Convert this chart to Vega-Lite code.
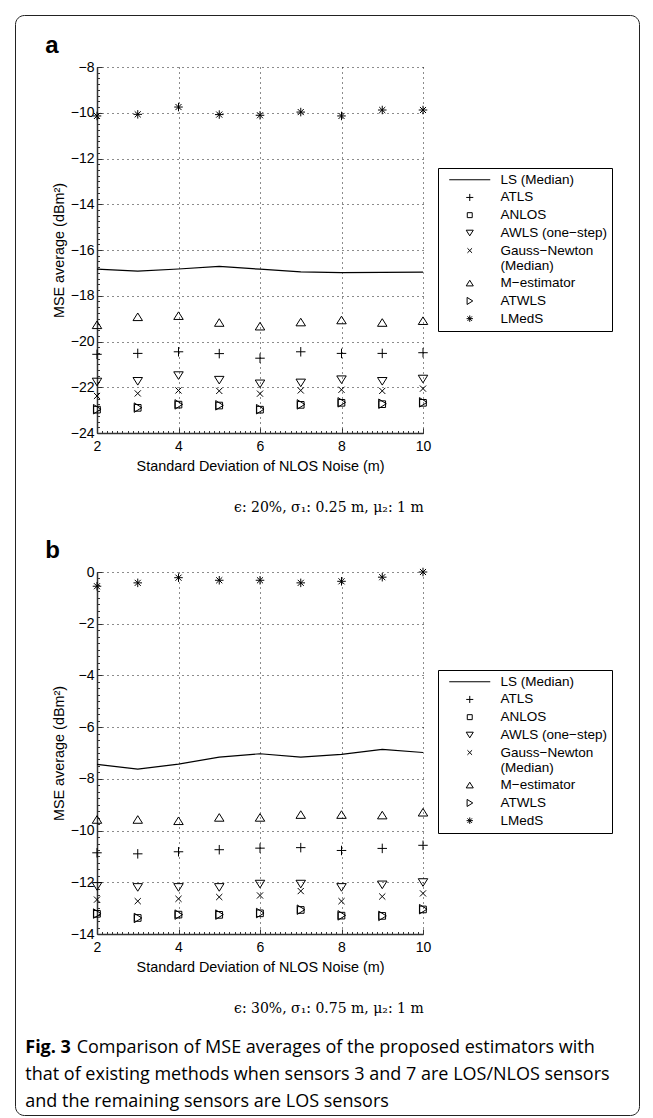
{
  "$schema": "https://vega.github.io/schema/vega-lite/v6.json",
  "background": "white",
  "padding": {"left": 14, "top": 14, "right": 5, "bottom": 0},
  "config": {
    "view": {"stroke": null},
    "font": "Liberation Sans",
    "axis": {
      "labelFont": "Liberation Sans", "labelFontSize": 14, "labelColor": "black",
      "titleFont": "Liberation Sans", "titleFontSize": 14.4, "titleFontWeight": "normal", "titleColor": "black",
      "domainColor": "#333", "domainWidth": 1.5, "tickColor": "#333", "tickWidth": 1,
      "gridColor": "#000", "gridDash": [1, 4], "gridWidth": 1,
      "labelOverlap": false, "labelFlush": false, "format": "d"
    },
    "legend": {
      "orient": "none", "strokeColor": "black", "padding": 5,
      "labelFont": "Liberation Sans", "labelFontSize": 13.5, "labelColor": "black", "labelLimit": 0,
      "symbolSize": 50, "symbolStrokeWidth": 1, "symbolStrokeColor": "black", "symbolOffset": 20, "labelOffset": 24, "rowPadding": 2.7
    }
  },
  "bounds": "flush",
  "spacing": 18,
  "vconcat": [
    {
      "width": 1, "height": 1,
      "data": {"values": [{"v": 0}, {"v": 1}]},
      "mark": {"type": "point", "opacity": 0},
      "encoding": {
        "color": {"field": "v", "type": "quantitative",
          "legend": {"title": null, "orient": "none", "legendX": -82, "legendY": -33, "direction": "vertical",
            "gradientLength": 1100, "gradientThickness": 624, "gradientOpacity": 0, "gradientStrokeWidth": 0,
            "labelExpr": "''", "labelOffset": 0, "padding": 0, "strokeColor": "#222", "cornerRadius": 9, "fillColor": "transparent"}}
      }
    },
    {
      "spacing": 24,
      "resolve": {"scale": {"shape": "independent"}},
      "title": {
        "text": "Fig. 3",
        "subtitle": ["\u200b\u00a0\u00a0\u00a0\u00a0\u00a0\u00a0\u00a0\u00a0\u00a0\u00a0\u00a0Comparison of MSE averages of the proposed estimators with", "that of existing methods when sensors 3 and 7 are LOS/NLOS sensors", "and the remaining sensors are LOS sensors"],
        "orient": "bottom", "anchor": "start", "frame": "bounds", "offset": 23,
        "font": "Open Sans", "fontSize": 18, "fontWeight": "bold", "color": "black",
        "subtitleFont": "Open Sans", "subtitleFontSize": 18, "subtitleFontWeight": "normal", "subtitleColor": "black",
        "subtitlePadding": -18, "subtitleLineHeight": 27, "dx": -20
      },
      "vconcat": [
        {
          "title": {"text": "ϵ: 20%, σ₁: 0.25 m, μ₂: 1 m", "orient": "bottom", "anchor": "middle", "frame": "bounds", "font": "DejaVu Serif", "fontSize": 14, "fontWeight": "normal", "color": "black", "offset": 28, "dx": 0},
          "vconcat": [
            {
              "width": 326, "height": 366,
              "title": {"text": "a", "anchor": "start", "frame": "bounds", "fontSize": 24, "fontWeight": "bold", "font": "Liberation Sans", "color": "black", "dx": -6, "offset": 2},
              "data": {"values": [
                {"s": "LS (Median)", "x": 2, "y": -16.84}, {"s": "LS (Median)", "x": 3, "y": -16.92}, {"s": "LS (Median)", "x": 4, "y": -16.83}, {"s": "LS (Median)", "x": 5, "y": -16.72}, {"s": "LS (Median)", "x": 6, "y": -16.84}, {"s": "LS (Median)", "x": 7, "y": -16.96}, {"s": "LS (Median)", "x": 8, "y": -16.99}, {"s": "LS (Median)", "x": 9, "y": -16.98}, {"s": "LS (Median)", "x": 10, "y": -16.97},
                {"s": "ATLS", "x": 2, "y": -20.56}, {"s": "ATLS", "x": 3, "y": -20.52}, {"s": "ATLS", "x": 4, "y": -20.45}, {"s": "ATLS", "x": 5, "y": -20.53}, {"s": "ATLS", "x": 6, "y": -20.73}, {"s": "ATLS", "x": 7, "y": -20.45}, {"s": "ATLS", "x": 8, "y": -20.52}, {"s": "ATLS", "x": 9, "y": -20.52}, {"s": "ATLS", "x": 10, "y": -20.49},
                {"s": "ANLOS", "x": 2, "y": -22.98}, {"s": "ANLOS", "x": 3, "y": -22.9}, {"s": "ANLOS", "x": 4, "y": -22.76}, {"s": "ANLOS", "x": 5, "y": -22.8}, {"s": "ANLOS", "x": 6, "y": -22.98}, {"s": "ANLOS", "x": 7, "y": -22.77}, {"s": "ANLOS", "x": 8, "y": -22.68}, {"s": "ANLOS", "x": 9, "y": -22.74}, {"s": "ANLOS", "x": 10, "y": -22.68},
                {"s": "AWLS (one−step)", "x": 2, "y": -21.76}, {"s": "AWLS (one−step)", "x": 3, "y": -21.73}, {"s": "AWLS (one−step)", "x": 4, "y": -21.48}, {"s": "AWLS (one−step)", "x": 5, "y": -21.68}, {"s": "AWLS (one−step)", "x": 6, "y": -21.84}, {"s": "AWLS (one−step)", "x": 7, "y": -21.8}, {"s": "AWLS (one−step)", "x": 8, "y": -21.66}, {"s": "AWLS (one−step)", "x": 9, "y": -21.73}, {"s": "AWLS (one−step)", "x": 10, "y": -21.63},
                {"s": "Gauss−Newton (Median)", "x": 2, "y": -22.38}, {"s": "Gauss−Newton (Median)", "x": 3, "y": -22.27}, {"s": "Gauss−Newton (Median)", "x": 4, "y": -22.14}, {"s": "Gauss−Newton (Median)", "x": 5, "y": -22.16}, {"s": "Gauss−Newton (Median)", "x": 6, "y": -22.28}, {"s": "Gauss−Newton (Median)", "x": 7, "y": -22.14}, {"s": "Gauss−Newton (Median)", "x": 8, "y": -22.11}, {"s": "Gauss−Newton (Median)", "x": 9, "y": -22.16}, {"s": "Gauss−Newton (Median)", "x": 10, "y": -22.06},
                {"s": "M−estimator", "x": 2, "y": -19.28}, {"s": "M−estimator", "x": 3, "y": -18.93}, {"s": "M−estimator", "x": 4, "y": -18.88}, {"s": "M−estimator", "x": 5, "y": -19.18}, {"s": "M−estimator", "x": 6, "y": -19.34}, {"s": "M−estimator", "x": 7, "y": -19.16}, {"s": "M−estimator", "x": 8, "y": -19.07}, {"s": "M−estimator", "x": 9, "y": -19.18}, {"s": "M−estimator", "x": 10, "y": -19.1},
                {"s": "ATWLS", "x": 2, "y": -22.96}, {"s": "ATWLS", "x": 3, "y": -22.89}, {"s": "ATWLS", "x": 4, "y": -22.75}, {"s": "ATWLS", "x": 5, "y": -22.79}, {"s": "ATWLS", "x": 6, "y": -22.96}, {"s": "ATWLS", "x": 7, "y": -22.75}, {"s": "ATWLS", "x": 8, "y": -22.66}, {"s": "ATWLS", "x": 9, "y": -22.72}, {"s": "ATWLS", "x": 10, "y": -22.66},
                {"s": "LMedS", "x": 2, "y": -10.14}, {"s": "LMedS", "x": 3, "y": -10.07}, {"s": "LMedS", "x": 4, "y": -9.75}, {"s": "LMedS", "x": 5, "y": -10.08}, {"s": "LMedS", "x": 6, "y": -10.11}, {"s": "LMedS", "x": 7, "y": -9.97}, {"s": "LMedS", "x": 8, "y": -10.14}, {"s": "LMedS", "x": 9, "y": -9.88}, {"s": "LMedS", "x": 10, "y": -9.88}
              ]},
              "encoding": {
                "x": {"field": "x", "type": "quantitative", "scale": {"domain": [2, 10], "nice": false},
                  "axis": {"title": "Standard Deviation of NLOS Noise (m)",
                    "values": [2,2.125,2.25,2.375,2.5,2.625,2.75,2.875,3,3.125,3.25,3.375,3.5,3.625,3.75,3.875,4,4.125,4.25,4.375,4.5,4.625,4.75,4.875,5,5.125,5.25,5.375,5.5,5.625,5.75,5.875,6,6.125,6.25,6.375,6.5,6.625,6.75,6.875,7,7.125,7.25,7.375,7.5,7.625,7.75,7.875,8,8.125,8.25,8.375,8.5,8.625,8.75,8.875,9,9.125,9.25,9.375,9.5,9.625,9.75,9.875,10],
                    "labelExpr": "datum.value % 2 == 0 ? datum.label : ''",
                    "tickSize": {"condition": {"test": "datum.value % 2 == 0", "value": -5}, "value": -2.5},
                    "gridOpacity": {"condition": {"test": "datum.value % 2 == 0", "value": 0.9}, "value": 0},
                    "labelPadding": 11, "titlePadding": 4}},
                "y": {"field": "y", "type": "quantitative", "scale": {"domain": [-24, -8], "nice": false},
                  "axis": {"title": "MSE average (dBm²)",
                    "values": [-24,-23.75,-23.5,-23.25,-23,-22.75,-22.5,-22.25,-22,-21.75,-21.5,-21.25,-21,-20.75,-20.5,-20.25,-20,-19.75,-19.5,-19.25,-19,-18.75,-18.5,-18.25,-18,-17.75,-17.5,-17.25,-17,-16.75,-16.5,-16.25,-16,-15.75,-15.5,-15.25,-15,-14.75,-14.5,-14.25,-14,-13.75,-13.5,-13.25,-13,-12.75,-12.5,-12.25,-12,-11.75,-11.5,-11.25,-11,-10.75,-10.5,-10.25,-10,-9.75,-9.5,-9.25,-9,-8.75,-8.5,-8.25,-8],
                    "labelExpr": "datum.value % 2 == 0 ? datum.label : ''",
                    "tickSize": {"condition": {"test": "datum.value % 2 == 0", "value": -5}, "value": -2.5},
                    "gridOpacity": {"condition": {"test": "datum.value % 2 == 0", "value": 0.9}, "value": 0},
                    "labelPadding": 8, "titlePadding": 4}}
              },
              "layer": [
                {"transform": [{"filter": "datum.s == 'LS (Median)'"}], "mark": {"type": "line", "color": "black", "strokeWidth": 1.2}, "encoding": {}},
                {"transform": [{"filter": "datum.s != 'LS (Median)'"}],
                 "mark": {"type": "point", "filled": false, "color": "black", "strokeWidth": 1, "size": 90, "opacity": 1},
                 "encoding": {"shape": {"field": "s", "type": "nominal",
                   "scale": {"domain": ["LS (Median)", "ATLS", "ANLOS", "AWLS (one−step)", "Gauss−Newton (Median)", "M−estimator", "ATWLS", "LMedS"],
                     "range": ["M-5.8,0H5.8", "M-1,0H1M0,-1V1", "M-0.7,-0.7H0.7V0.7H-0.7Z", "M-1,-0.75H1L0,0.85Z", "M-0.65,-0.65L0.65,0.65M-0.65,0.65L0.65,-0.65", "M0,-0.85L1,0.75H-1Z", "M-0.75,-1L0.85,0L-0.75,1Z", "M-0.9,0H0.9M0,-0.9V0.9M-0.64,-0.64L0.64,0.64M-0.64,0.64L0.64,-0.64"]},
                   "legend": {"title": null, "orient": "none", "legendX": 341, "legendY": 101,
                     "labelExpr": "datum.label == 'Gauss−Newton (Median)' ? ['Gauss−Newton', '(Median)'] : datum.label"}}}}
              ]
            }
          ]
        },
        {
          "title": {"text": "ϵ: 30%, σ₁: 0.75 m, μ₂: 1 m", "orient": "bottom", "anchor": "middle", "frame": "bounds", "font": "DejaVu Serif", "fontSize": 14, "fontWeight": "normal", "color": "black", "offset": 28, "dx": 0},
          "vconcat": [
            {
              "width": 326, "height": 362,
              "title": {"text": "b", "anchor": "start", "frame": "bounds", "fontSize": 24, "fontWeight": "bold", "font": "Liberation Sans", "color": "black", "dx": -6, "offset": 2},
              "data": {"values": [
                {"s": "LS (Median)", "x": 2, "y": -7.44}, {"s": "LS (Median)", "x": 3, "y": -7.62}, {"s": "LS (Median)", "x": 4, "y": -7.43}, {"s": "LS (Median)", "x": 5, "y": -7.16}, {"s": "LS (Median)", "x": 6, "y": -7.03}, {"s": "LS (Median)", "x": 7, "y": -7.16}, {"s": "LS (Median)", "x": 8, "y": -7.05}, {"s": "LS (Median)", "x": 9, "y": -6.86}, {"s": "LS (Median)", "x": 10, "y": -6.98},
                {"s": "ATLS", "x": 2, "y": -10.86}, {"s": "ATLS", "x": 3, "y": -10.9}, {"s": "ATLS", "x": 4, "y": -10.82}, {"s": "ATLS", "x": 5, "y": -10.74}, {"s": "ATLS", "x": 6, "y": -10.68}, {"s": "ATLS", "x": 7, "y": -10.66}, {"s": "ATLS", "x": 8, "y": -10.77}, {"s": "ATLS", "x": 9, "y": -10.69}, {"s": "ATLS", "x": 10, "y": -10.57},
                {"s": "ANLOS", "x": 2, "y": -13.22}, {"s": "ANLOS", "x": 3, "y": -13.38}, {"s": "ANLOS", "x": 4, "y": -13.25}, {"s": "ANLOS", "x": 5, "y": -13.26}, {"s": "ANLOS", "x": 6, "y": -13.2}, {"s": "ANLOS", "x": 7, "y": -13.07}, {"s": "ANLOS", "x": 8, "y": -13.29}, {"s": "ANLOS", "x": 9, "y": -13.3}, {"s": "ANLOS", "x": 10, "y": -13.05},
                {"s": "AWLS (one−step)", "x": 2, "y": -12.15}, {"s": "AWLS (one−step)", "x": 3, "y": -12.19}, {"s": "AWLS (one−step)", "x": 4, "y": -12.19}, {"s": "AWLS (one−step)", "x": 5, "y": -12.19}, {"s": "AWLS (one−step)", "x": 6, "y": -12.06}, {"s": "AWLS (one−step)", "x": 7, "y": -12.06}, {"s": "AWLS (one−step)", "x": 8, "y": -12.19}, {"s": "AWLS (one−step)", "x": 9, "y": -12.09}, {"s": "AWLS (one−step)", "x": 10, "y": -12.0},
                {"s": "Gauss−Newton (Median)", "x": 2, "y": -12.67}, {"s": "Gauss−Newton (Median)", "x": 3, "y": -12.73}, {"s": "Gauss−Newton (Median)", "x": 4, "y": -12.64}, {"s": "Gauss−Newton (Median)", "x": 5, "y": -12.57}, {"s": "Gauss−Newton (Median)", "x": 6, "y": -12.51}, {"s": "Gauss−Newton (Median)", "x": 7, "y": -12.34}, {"s": "Gauss−Newton (Median)", "x": 8, "y": -12.73}, {"s": "Gauss−Newton (Median)", "x": 9, "y": -12.55}, {"s": "Gauss−Newton (Median)", "x": 10, "y": -12.43},
                {"s": "M−estimator", "x": 2, "y": -9.58}, {"s": "M−estimator", "x": 3, "y": -9.58}, {"s": "M−estimator", "x": 4, "y": -9.63}, {"s": "M−estimator", "x": 5, "y": -9.5}, {"s": "M−estimator", "x": 6, "y": -9.5}, {"s": "M−estimator", "x": 7, "y": -9.39}, {"s": "M−estimator", "x": 8, "y": -9.39}, {"s": "M−estimator", "x": 9, "y": -9.41}, {"s": "M−estimator", "x": 10, "y": -9.3},
                {"s": "ATWLS", "x": 2, "y": -13.21}, {"s": "ATWLS", "x": 3, "y": -13.38}, {"s": "ATWLS", "x": 4, "y": -13.25}, {"s": "ATWLS", "x": 5, "y": -13.25}, {"s": "ATWLS", "x": 6, "y": -13.19}, {"s": "ATWLS", "x": 7, "y": -13.06}, {"s": "ATWLS", "x": 8, "y": -13.28}, {"s": "ATWLS", "x": 9, "y": -13.3}, {"s": "ATWLS", "x": 10, "y": -13.04},
                {"s": "LMedS", "x": 2, "y": -0.55}, {"s": "LMedS", "x": 3, "y": -0.42}, {"s": "LMedS", "x": 4, "y": -0.22}, {"s": "LMedS", "x": 5, "y": -0.32}, {"s": "LMedS", "x": 6, "y": -0.32}, {"s": "LMedS", "x": 7, "y": -0.42}, {"s": "LMedS", "x": 8, "y": -0.36}, {"s": "LMedS", "x": 9, "y": -0.2}, {"s": "LMedS", "x": 10, "y": 0.0}
              ]},
              "encoding": {
                "x": {"field": "x", "type": "quantitative", "scale": {"domain": [2, 10], "nice": false},
                  "axis": {"title": "Standard Deviation of NLOS Noise (m)",
                    "values": [2,2.125,2.25,2.375,2.5,2.625,2.75,2.875,3,3.125,3.25,3.375,3.5,3.625,3.75,3.875,4,4.125,4.25,4.375,4.5,4.625,4.75,4.875,5,5.125,5.25,5.375,5.5,5.625,5.75,5.875,6,6.125,6.25,6.375,6.5,6.625,6.75,6.875,7,7.125,7.25,7.375,7.5,7.625,7.75,7.875,8,8.125,8.25,8.375,8.5,8.625,8.75,8.875,9,9.125,9.25,9.375,9.5,9.625,9.75,9.875,10],
                    "labelExpr": "datum.value % 2 == 0 ? datum.label : ''",
                    "tickSize": {"condition": {"test": "datum.value % 2 == 0", "value": -5}, "value": -2.5},
                    "gridOpacity": {"condition": {"test": "datum.value % 2 == 0", "value": 0.9}, "value": 0},
                    "labelPadding": 11, "titlePadding": 4}},
                "y": {"field": "y", "type": "quantitative", "scale": {"domain": [-14, 0], "nice": false},
                  "axis": {"title": "MSE average (dBm²)",
                    "values": [-14,-13.75,-13.5,-13.25,-13,-12.75,-12.5,-12.25,-12,-11.75,-11.5,-11.25,-11,-10.75,-10.5,-10.25,-10,-9.75,-9.5,-9.25,-9,-8.75,-8.5,-8.25,-8,-7.75,-7.5,-7.25,-7,-6.75,-6.5,-6.25,-6,-5.75,-5.5,-5.25,-5,-4.75,-4.5,-4.25,-4,-3.75,-3.5,-3.25,-3,-2.75,-2.5,-2.25,-2,-1.75,-1.5,-1.25,-1,-0.75,-0.5,-0.25,0],
                    "labelExpr": "datum.value % 2 == 0 ? datum.label : ''",
                    "tickSize": {"condition": {"test": "datum.value % 2 == 0", "value": -5}, "value": -2.5},
                    "gridOpacity": {"condition": {"test": "datum.value % 2 == 0", "value": 0.9}, "value": 0},
                    "labelPadding": 8, "titlePadding": 4}}
              },
              "layer": [
                {"transform": [{"filter": "datum.s == 'LS (Median)'"}], "mark": {"type": "line", "color": "black", "strokeWidth": 1.2}, "encoding": {}},
                {"transform": [{"filter": "datum.s != 'LS (Median)'"}],
                 "mark": {"type": "point", "filled": false, "color": "black", "strokeWidth": 1, "size": 90, "opacity": 1},
                 "encoding": {"shape": {"field": "s", "type": "nominal",
                   "scale": {"domain": ["LS (Median)", "ATLS", "ANLOS", "AWLS (one−step)", "Gauss−Newton (Median)", "M−estimator", "ATWLS", "LMedS"],
                     "range": ["M-5.8,0H5.8", "M-1,0H1M0,-1V1", "M-0.7,-0.7H0.7V0.7H-0.7Z", "M-1,-0.75H1L0,0.85Z", "M-0.65,-0.65L0.65,0.65M-0.65,0.65L0.65,-0.65", "M0,-0.85L1,0.75H-1Z", "M-0.75,-1L0.85,0L-0.75,1Z", "M-0.9,0H0.9M0,-0.9V0.9M-0.64,-0.64L0.64,0.64M-0.64,0.64L0.64,-0.64"]},
                   "legend": {"title": null, "orient": "none", "legendX": 341, "legendY": 98,
                     "labelExpr": "datum.label == 'Gauss−Newton (Median)' ? ['Gauss−Newton', '(Median)'] : datum.label"}}}}
              ]
            }
          ]
        }
      ]
    }
  ]
}
